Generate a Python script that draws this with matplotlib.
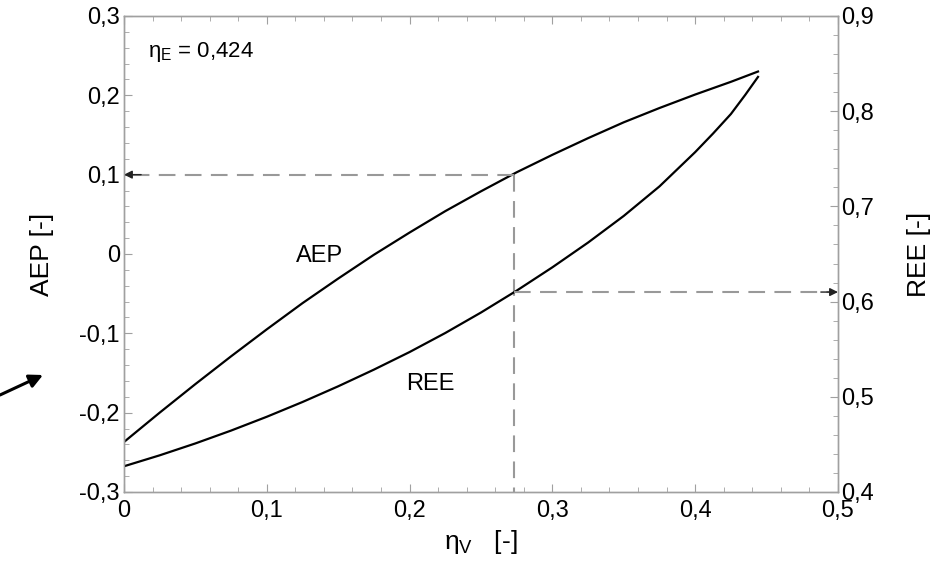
import numpy as np
import matplotlib.pyplot as plt
from matplotlib.ticker import MultipleLocator, FuncFormatter

plt.rcParams['font.family'] = ['Liberation Sans', 'DejaVu Sans']
plt.rcParams['mathtext.fontset'] = 'custom'
plt.rcParams['mathtext.rm'] = 'Liberation Sans'
plt.rcParams['mathtext.it'] = 'Liberation Sans'

# volumetric efficiency eta_V
eta_v = [0.0, 0.025, 0.05, 0.075, 0.10, 0.125, 0.15, 0.175, 0.20, 0.225,
         0.25, 0.275, 0.30, 0.325, 0.35, 0.375, 0.40, 0.425, 0.444]
aep = [-0.237, -0.200, -0.164, -0.129, -0.095, -0.062, -0.031, -0.001, 0.027, 0.054,
       0.079, 0.103, 0.125, 0.146, 0.166, 0.184, 0.201, 0.217, 0.230]

eta_v_ree = [0.0, 0.025, 0.05, 0.075, 0.10, 0.125, 0.15, 0.175, 0.20, 0.225,
             0.25, 0.275, 0.30, 0.325, 0.35, 0.375, 0.40, 0.4125, 0.425, 0.435, 0.444]
ree = [0.427, 0.4385, 0.451, 0.4645, 0.479, 0.4945, 0.511, 0.5285, 0.547, 0.567,
       0.5885, 0.6115, 0.636, 0.662, 0.690, 0.721, 0.757, 0.7765, 0.797, 0.817, 0.836]

# operating point
eta_v_op = 0.273
aep_op = 0.1
ree_op = 0.61
eta_e = 0.424

AXIS_GREY = '#a0a0a0'
DASH_GREY = '#999999'


def comma(v, pos):
    s = f'{v:.1f}'.replace('.', ',')
    if s in ('0,0', '-0,0'):
        return '0'
    return s


fig = plt.figure(figsize=(9.53, 5.71), dpi=100)
ax = fig.add_axes([0.1301, 0.1384, 0.7492, 0.8336])
ax2 = ax.twinx()

ax.plot(eta_v, aep, color='black', lw=1.6)
ax2.plot(eta_v_ree, ree, color='black', lw=1.6)

ax.set_xlim(0, 0.5)
ax.set_ylim(-0.3, 0.3)
ax2.set_ylim(0.4, 0.9)

for a in (ax, ax2):
    for sp in a.spines.values():
        sp.set_color(AXIS_GREY)
        sp.set_linewidth(1.0)
    a.tick_params(which='both', direction='in', colors=AXIS_GREY,
                  labelcolor='black', labelsize=17)
    a.tick_params(which='major', length=6)
    a.tick_params(which='minor', length=3.5)

ax.xaxis.set_major_locator(MultipleLocator(0.1))
ax.xaxis.set_minor_locator(MultipleLocator(0.02))
ax.yaxis.set_major_locator(MultipleLocator(0.1))
ax.yaxis.set_minor_locator(MultipleLocator(0.02))
ax2.yaxis.set_major_locator(MultipleLocator(0.1))
ax2.yaxis.set_minor_locator(MultipleLocator(0.02))
ax.xaxis.set_major_formatter(FuncFormatter(comma))
ax.yaxis.set_major_formatter(FuncFormatter(comma))
ax2.yaxis.set_major_formatter(FuncFormatter(comma))
ax.tick_params(axis='x', which='both', top=True, pad=6)
ax.tick_params(axis='y', which='both', right=False, pad=3)
ax2.tick_params(axis='y', which='both', pad=2)

ax.set_ylabel('AEP [-]', fontsize=19, labelpad=18)
ax2.set_ylabel('REE [-]', fontsize=19, labelpad=24)
ax.set_xlabel(r'$\mathrm{η}_{\mathrm{V}}$   [-]', fontsize=19, labelpad=4)

# dashed guide lines through the operating point
dash = dict(color=DASH_GREY, lw=1.5, dashes=(8, 4.5))
ax.plot([eta_v_op, 0.006], [aep_op, aep_op], **dash)
ax.plot([eta_v_op, eta_v_op], [aep_op, -0.3], **dash)
ax2.plot([eta_v_op, 0.494], [ree_op, ree_op], **dash)
ax.annotate('', xy=(0.0, aep_op), xytext=(0.012, aep_op),
            arrowprops=dict(arrowstyle='-|>', color='#222222', lw=1,
                            mutation_scale=12, shrinkA=0, shrinkB=0))
ax2.annotate('', xy=(0.5, ree_op), xytext=(0.488, ree_op),
             arrowprops=dict(arrowstyle='-|>', color='#222222', lw=1,
                             mutation_scale=12, shrinkA=0, shrinkB=0))

ax.text(0.1205, -0.002, 'AEP', fontsize=17, ha='left', va='center')
ax.text(0.1975, -0.164, 'REE', fontsize=17, ha='left', va='center')
ax.text(0.0165, 0.255, r'$\mathrm{η}_{\mathrm{E}}$ = ' + f'{eta_e:.3f}'.replace('.', ','),
        fontsize=16, ha='left', va='center')

# stray pointer on the left margin
ax.annotate('', xy=(43 / 953, 1 - 375 / 571), xycoords='figure fraction',
            xytext=(0.0, 1 - 395 / 571), textcoords='figure fraction',
            arrowprops=dict(arrowstyle='-|>', color='black', lw=2.2,
                            mutation_scale=20, shrinkA=0, shrinkB=0),
            annotation_clip=False)

fig.savefig('out.png', dpi=100)
